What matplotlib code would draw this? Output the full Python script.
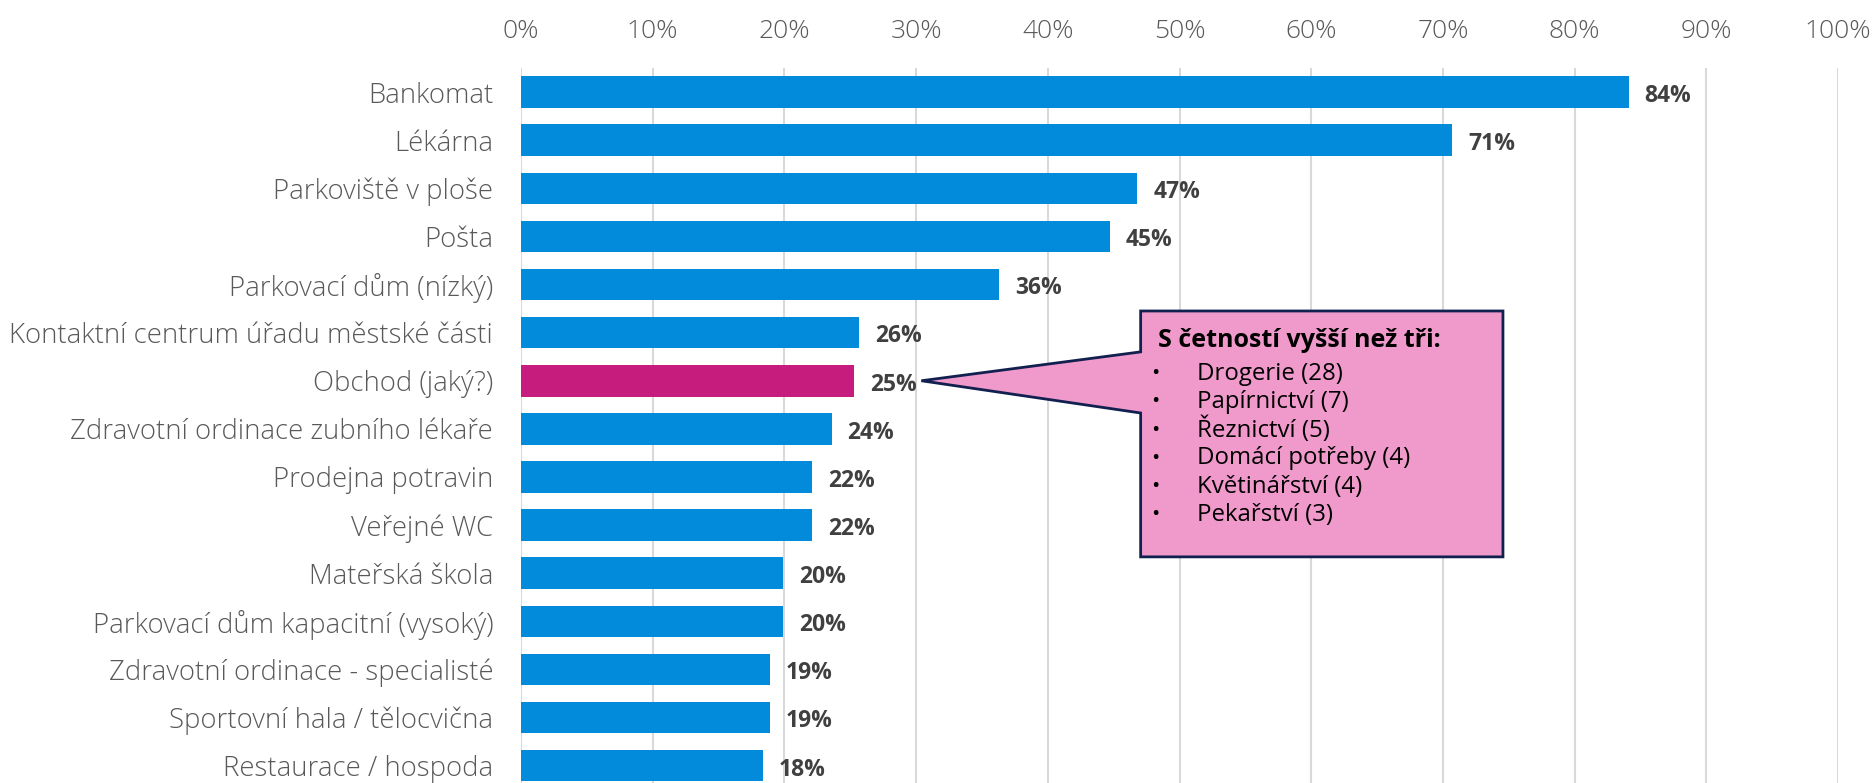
import matplotlib.pyplot as plt
from matplotlib.patches import Polygon
from matplotlib.ticker import PercentFormatter

plt.rcParams['font.family'] = ['Open Sans', 'DejaVu Sans']

categories = [
    'Bankomat', 'Lékárna', 'Parkoviště v ploše', 'Pošta', 'Parkovací dům (nízký)',
    'Kontaktní centrum úřadu městské části', 'Obchod (jaký?)',
    'Zdravotní ordinace zubního lékaře', 'Prodejna potravin', 'Veřejné WC',
    'Mateřská škola', 'Parkovací dům kapacitní (vysoký)',
    'Zdravotní ordinace - specialisté', 'Sportovní hala / tělocvična',
    'Restaurace / hospoda',
]
values = [0.841, 0.707, 0.468, 0.447, 0.363, 0.257, 0.253, 0.236,
          0.221, 0.221, 0.199, 0.199, 0.189, 0.189, 0.184]
highlight = 'Obchod (jaký?)'

callout_title = 'S četností vyšší než tři:'
callout_items = ['Drogerie (28)', 'Papírnictví (7)', 'Řeznictví (5)',
                 'Domácí potřeby (4)', 'Květinářství (4)', 'Pekařství (3)']

blue = '#028BDB'
magenta = '#C61C7E'

fig = plt.figure(figsize=(18.75, 7.83), dpi=100)
ax = fig.add_axes([521 / 1875, 0, (1838 - 521) / 1875, 1 - 68 / 783])

ypos = list(range(len(categories)))
colors = [magenta if c == highlight else blue for c in categories]
ax.barh(ypos, values, height=0.655, color=colors, zorder=2)

for y, v in zip(ypos, values):
    ax.text(v + 0.012, y + 0.08, f'{round(v * 100):.0f}%', va='center', ha='left',
            fontsize=16.5, fontweight='bold', color='#404040')

ax.set_xlim(0, 1)
ax.set_ylim(14.36, -0.5)
ax.set_xticks([i / 10 for i in range(11)])
ax.xaxis.set_major_formatter(PercentFormatter(1.0, decimals=0))
ax.xaxis.tick_top()
ax.tick_params(axis='x', length=0, pad=17, labelsize=19, labelcolor='#595959')
ax.set_yticks(ypos)
ax.set_yticklabels(categories)
ax.tick_params(axis='y', length=0, pad=20, labelsize=19.8, labelcolor='#595959')
for lab in ax.get_xticklabels() + ax.get_yticklabels():
    lab.set_fontweight('light')
ax.grid(axis='x', color='#D9D9D9', lw=1.5, zorder=0)
for s in ax.spines.values():
    s.set_visible(False)

# callout pointing to the highlighted bar
hi = categories.index(highlight)
tip_x = values[hi] + 0.051
x0, x1 = 0.4705, 0.7456
y0, y1 = 4.55, 9.66
b0, b1 = 5.40, 6.67
shape = Polygon([(x0, y0), (x1, y0), (x1, y1), (x0, y1), (x0, b1),
                 (tip_x, hi), (x0, b0)], closed=True,
                facecolor='#F09ACB', edgecolor='#12204F', lw=2, zorder=3)
ax.add_patch(shape)
ax.text(x0 + 0.013, y0 + 0.62, callout_title, fontsize=18, fontweight='bold',
        va='center', ha='left', color='black', zorder=4)
for i, item in enumerate(callout_items):
    yy = y0 + 1.3 + i * 0.587
    ax.text(x0 + 0.008, yy, '•', fontsize=16, va='center', ha='left', zorder=4)
    ax.text(x0 + 0.043, yy, item, fontsize=17.3, va='center', ha='left', zorder=4)

fig.savefig('out.png', dpi=100)
